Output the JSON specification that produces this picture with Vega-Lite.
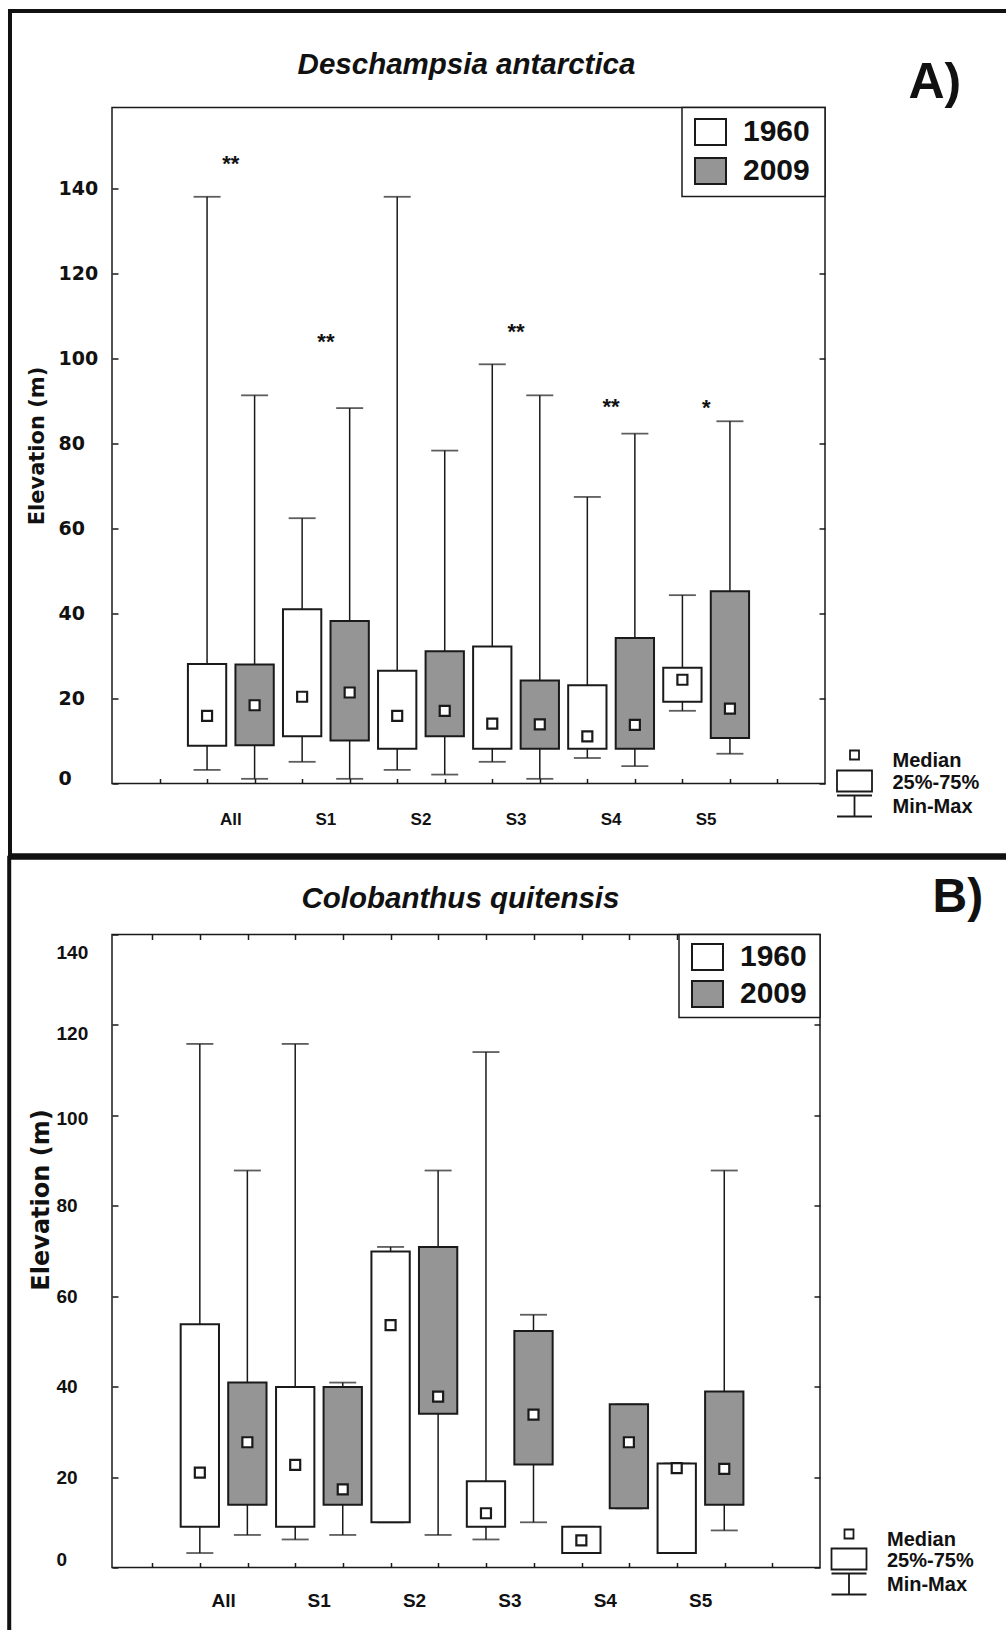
{
  "$schema": "https://vega.github.io/schema/vega-lite/v6.json",
  "background": "white",
  "padding": {"left": 6, "top": 7.5, "right": 0, "bottom": 0},
  "spacing": -4,
  "resolve": {"scale": {"fill": "independent", "shape": "independent"}, "legend": {"fill": "independent", "shape": "independent"}},
  "config": {"view": {"stroke": "#1a1a1a", "strokeWidth": 1.5}, "font": "Liberation Sans"},
  "datasets": {
    "boxA": [
      {"site": "All", "year": "1960", "min": 3.2, "q1": 8.9, "median": 15.9, "q3": 28.1, "max": 138},
      {"site": "All", "year": "2009", "min": 1.1, "q1": 9.0, "median": 18.4, "q3": 28.0, "max": 91.3},
      {"site": "S1", "year": "1960", "min": 5.1, "q1": 11.1, "median": 20.4, "q3": 41.0, "max": 62.4},
      {"site": "S1", "year": "2009", "min": 1.1, "q1": 10.1, "median": 21.4, "q3": 38.2, "max": 88.3},
      {"site": "S2", "year": "1960", "min": 3.2, "q1": 8.2, "median": 15.9, "q3": 26.5, "max": 138},
      {"site": "S2", "year": "2009", "min": 2.1, "q1": 11.1, "median": 17.1, "q3": 31.1, "max": 78.3},
      {"site": "S3", "year": "1960", "min": 5.1, "q1": 8.2, "median": 14.1, "q3": 32.2, "max": 98.6},
      {"site": "S3", "year": "2009", "min": 1.1, "q1": 8.2, "median": 13.9, "q3": 24.2, "max": 91.3},
      {"site": "S4", "year": "1960", "min": 6.0, "q1": 8.2, "median": 11.1, "q3": 23.1, "max": 67.4},
      {"site": "S4", "year": "2009", "min": 4.1, "q1": 8.2, "median": 13.8, "q3": 34.2, "max": 82.3},
      {"site": "S5", "year": "1960", "min": 17.1, "q1": 19.2, "median": 24.4, "q3": 27.2, "max": 44.3},
      {"site": "S5", "year": "2009", "min": 7.0, "q1": 10.7, "median": 17.6, "q3": 45.2, "max": 85.2}
    ],
    "boxB": [
      {"site": "All", "year": "1960", "min": 3.2, "q1": 9.0, "median": 21.0, "q3": 53.8, "max": 115.8},
      {"site": "All", "year": "2009", "min": 7.2, "q1": 13.9, "median": 27.7, "q3": 40.9, "max": 87.8},
      {"site": "S1", "year": "1960", "min": 6.2, "q1": 9.0, "median": 22.7, "q3": 39.9, "max": 115.8},
      {"site": "S1", "year": "2009", "min": 7.2, "q1": 13.9, "median": 17.3, "q3": 39.9, "max": 40.9},
      {"site": "S2", "year": "1960", "min": 10.0, "q1": 10.0, "median": 53.6, "q3": 69.9, "max": 70.9},
      {"site": "S2", "year": "2009", "min": 7.2, "q1": 34.0, "median": 37.8, "q3": 70.9, "max": 87.8},
      {"site": "S3", "year": "1960", "min": 6.2, "q1": 9.0, "median": 12.0, "q3": 19.1, "max": 114.0},
      {"site": "S3", "year": "2009", "min": 10.0, "q1": 22.8, "median": 33.8, "q3": 52.3, "max": 55.9},
      {"site": "S4", "year": "1960", "min": 3.2, "q1": 3.2, "median": 6.0, "q3": 9.0, "max": 9.0},
      {"site": "S4", "year": "2009", "min": 13.1, "q1": 13.1, "median": 27.7, "q3": 36.1, "max": 36.1},
      {"site": "S5", "year": "1960", "min": 3.2, "q1": 3.2, "median": 22.0, "q3": 23.0, "max": 23.0},
      {"site": "S5", "year": "2009", "min": 8.2, "q1": 13.9, "median": 21.8, "q3": 38.9, "max": 87.8}
    ],
    "starsA": [
      {"site": "All", "sig": "**", "y": 146},
      {"site": "S1", "sig": "**", "y": 104},
      {"site": "S3", "sig": "**", "y": 106.4},
      {"site": "S4", "sig": "**", "y": 88.8},
      {"site": "S5", "sig": "*", "y": 88.5}
    ],
    "key": [{"key": "Median"}, {"key": "25%-75%"}, {"key": "Min-Max"}]
  },
  "vconcat": [
    {
      "width": 713,
      "height": 676,
      "layer": [
        {
          "layer": [
            {
              "data": {"name": "boxA"},
              "mark": {"type": "rule", "color": "#1a1a1a", "strokeWidth": 1.5},
              "encoding": {
                "x": {"field": "site", "type": "nominal", "sort": null, "scale": {"domain": ["All", "S1", "S2", "S3", "S4", "S5"], "paddingInner": 0, "paddingOuter": 0.75},
                  "axis": {"orient": "bottom", "title": null, "ticks": false, "tickSize": 0, "domain": false, "grid": false, "labelAngle": 0, "labelFont": "Liberation Sans", "labelFontWeight": "bold", "labelFontSize": 17, "labelColor": "#111111", "labelPadding": 36, "labelBaseline": "middle"}},
                "xOffset": {"field": "year", "type": "nominal", "scale": {"domain": ["1960", "2009"], "paddingInner": 0.194, "paddingOuter": 0.097}},
                "y": {"field": "min", "type": "quantitative", "scale": {"domain": [0, 159], "nice": false, "zero": false},
                  "axis": {"orient": "left", "values": [0, 20, 40, 60, 80, 100, 120, 140], "tickSize": -6, "tickColor": "#1a1a1a", "tickWidth": 1.5, "domain": false, "grid": false,
                    "labelFont": "DejaVu Sans", "labelFontWeight": "bold", "labelFontSize": 19, "labelColor": "#111111", "labelAlign": "left", "labelPadding": 60,
                    "labelOffset": {"expr": "datum.value == 0 ? -5 : 0"},
                    "title": "Elevation (m)", "titleFont": "DejaVu Sans", "titleFontWeight": "bold", "titleFontSize": 21, "titleColor": "#111111", "titleX": -75, "titleY": 338, "titleAngle": 270, "titleBaseline": "middle", "titleAlign": "center"}},
                "y2": {"field": "max"}
              }
            },
            {
              "data": {"name": "boxA"},
              "mark": {"type": "tick", "color": "#1a1a1a", "thickness": 1.8, "size": 27},
              "encoding": {
                "x": {"field": "site", "type": "nominal", "sort": null, "scale": {"domain": ["All", "S1", "S2", "S3", "S4", "S5"], "paddingInner": 0, "paddingOuter": 0.75}},
                "xOffset": {"field": "year", "type": "nominal", "scale": {"domain": ["1960", "2009"], "paddingInner": 0.194, "paddingOuter": 0.097}},
                "y": {"field": "min", "type": "quantitative", "scale": {"domain": [0, 159], "nice": false, "zero": false}}
              }
            },
            {
              "data": {"name": "boxA"},
              "mark": {"type": "tick", "color": "#1a1a1a", "thickness": 1.8, "size": 27},
              "encoding": {
                "x": {"field": "site", "type": "nominal", "sort": null, "scale": {"domain": ["All", "S1", "S2", "S3", "S4", "S5"], "paddingInner": 0, "paddingOuter": 0.75}},
                "xOffset": {"field": "year", "type": "nominal", "scale": {"domain": ["1960", "2009"], "paddingInner": 0.194, "paddingOuter": 0.097}},
                "y": {"field": "max", "type": "quantitative", "scale": {"domain": [0, 159], "nice": false, "zero": false}}
              }
            },
            {
              "data": {"name": "boxA"},
              "mark": {"type": "bar", "stroke": "#1a1a1a", "strokeWidth": 2},
              "encoding": {
                "x": {"field": "site", "type": "nominal", "sort": null, "scale": {"domain": ["All", "S1", "S2", "S3", "S4", "S5"], "paddingInner": 0, "paddingOuter": 0.75}},
                "xOffset": {"field": "year", "type": "nominal", "scale": {"domain": ["1960", "2009"], "paddingInner": 0.194, "paddingOuter": 0.097}},
                "y": {"field": "q1", "type": "quantitative", "scale": {"domain": [0, 159], "nice": false, "zero": false}},
                "y2": {"field": "q3"},
                "fill": {"field": "year", "type": "nominal", "scale": {"domain": ["1960", "2009"], "range": ["#ffffff", "#959595"]},
                  "legend": {"orient": "top-right", "offset": 0, "title": "\u00a0", "titleOrient": "right", "titleFontSize": 2, "titlePadding": 7, "fillColor": "white", "strokeColor": "#1a1a1a", "padding": 8,
                    "symbolType": "M-1,-0.84H1V0.84H-1Z", "symbolSize": 961, "symbolStrokeColor": "#1a1a1a", "symbolStrokeWidth": 2, "symbolOffset": 4,
                    "labelFont": "Liberation Sans", "labelFontWeight": "bold", "labelFontSize": 30, "labelColor": "#111111", "labelOffset": 16, "rowPadding": 4,
                    "encode": {"legend": {"update": {"strokeWidth": {"value": 1.5}}}}}}
              }
            },
            {
              "data": {"name": "boxA"},
              "mark": {"type": "point", "shape": "square", "filled": true, "fill": "white", "stroke": "#1a1a1a", "strokeWidth": 2.2, "size": 100, "opacity": 1},
              "encoding": {
                "x": {"field": "site", "type": "nominal", "sort": null, "scale": {"domain": ["All", "S1", "S2", "S3", "S4", "S5"], "paddingInner": 0, "paddingOuter": 0.75}},
                "xOffset": {"field": "year", "type": "nominal", "scale": {"domain": ["1960", "2009"], "paddingInner": 0.194, "paddingOuter": 0.097}},
                "y": {"field": "median", "type": "quantitative", "scale": {"domain": [0, 159], "nice": false, "zero": false}}
              }
            },
            {
              "data": {"name": "starsA"},
              "mark": {"type": "text", "font": "Liberation Sans", "fontWeight": "bold", "fontSize": 22, "color": "#111111", "baseline": "middle", "dy": 1},
              "encoding": {
                "x": {"field": "site", "type": "nominal", "sort": null, "scale": {"domain": ["All", "S1", "S2", "S3", "S4", "S5"], "paddingInner": 0, "paddingOuter": 0.75}},
                "y": {"field": "y", "type": "quantitative", "scale": {"domain": [0, 159], "nice": false, "zero": false}},
                "text": {"field": "sig"}
              }
            },
            {
              "data": {"name": "key"},
              "mark": {"type": "point", "opacity": 0},
              "encoding": {
                "shape": {"field": "key", "type": "nominal", "scale": {"domain": ["Median", "25%-75%", "Min-Max"], "range": ["M-0.45,-1H0.45V-0.1H-0.45Z", "M-1.75,-1.2H1.75V0.9H-1.75Z", "M-1.75,-1.1H1.75M0,-1.1V1M-1.75,1H1.75"]},
                  "legend": {"orient": "none", "legendX": 731.5, "legendY": 642, "title": null, "padding": 0, "symbolSize": 400, "symbolFillColor": "white", "symbolStrokeColor": "#1a1a1a", "symbolStrokeWidth": 1.8, "symbolOpacity": 1,
                    "labelFont": "Liberation Sans", "labelFontWeight": "bold", "labelFontSize": 20, "labelColor": "#111111", "labelOffset": 27, "rowPadding": -4}}
              }
            }
          ]
        },
        {
          "data": {"values": [{}]},
          "mark": {"type": "rect", "fill": "white", "fillOpacity": 0, "stroke": "#111111", "strokeWidth": 4},
          "encoding": {
            "x": {"datum": -2.146, "type": "quantitative", "scale": {"domain": [0, 15], "nice": false, "zero": false},
              "axis": {"orient": "bottom", "values": [1, 2, 3, 4, 5, 6, 7, 8, 9, 10, 11, 12, 13, 14], "labels": false, "tickSize": -5, "tickColor": "#1a1a1a", "tickWidth": 1.5, "domain": false, "grid": false, "title": null}},
            "x2": {"datum": 20},
            "y": {"datum": -16.9, "type": "quantitative", "scale": {"domain": [0, 159], "nice": false, "zero": false},
              "axis": {"orient": "right", "values": [0, 20, 40, 60, 80, 100, 120, 140], "labels": false, "tickSize": -6, "tickColor": "#1a1a1a", "tickWidth": 1.5, "domain": false, "grid": false, "title": null}},
            "y2": {"datum": 181.7}
          }
        },
        {
          "data": {"values": [{}]},
          "mark": {"type": "text", "text": "A)", "font": "Liberation Sans", "fontWeight": "bold", "fontSize": 50, "align": "center", "baseline": "alphabetic", "color": "#111111"},
          "encoding": {
            "x": {"datum": 17.31, "type": "quantitative", "scale": {"domain": [0, 15], "nice": false, "zero": false},
              "axis": {"orient": "top", "ticks": false, "labels": false, "domain": false, "grid": false, "title": "Deschampsia antarctica", "titleFont": "Liberation Sans", "titleFontStyle": "italic", "titleFontWeight": "bold", "titleFontSize": 29.5, "titleColor": "#111111", "titleX": 354, "titleY": -34, "titleBaseline": "alphabetic", "titleAlign": "center"}},
            "y": {"datum": 161.2, "type": "quantitative", "scale": {"domain": [0, 159], "nice": false, "zero": false}, "axis": null}
          }
        }
      ],
      "resolve": {"scale": {"x": "independent"}, "axis": {"x": "independent", "y": "independent"}}
    },
    {
      "width": 708,
      "height": 633,
      "layer": [
        {
          "layer": [
            {
              "data": {"name": "boxB"},
              "mark": {"type": "rule", "color": "#1a1a1a", "strokeWidth": 1.5},
              "encoding": {
                "x": {"field": "site", "type": "nominal", "sort": null, "scale": {"domain": ["All", "S1", "S2", "S3", "S4", "S5"], "paddingInner": 0, "paddingOuter": 0.7115, "align": 0.472},
                  "axis": {"orient": "bottom", "title": null, "ticks": false, "tickSize": 0, "domain": false, "grid": false, "labelAngle": 0, "labelFont": "Liberation Sans", "labelFontWeight": "bold", "labelFontSize": 19, "labelColor": "#111111", "labelPadding": 33, "labelBaseline": "middle"}},
                "xOffset": {"field": "year", "type": "nominal", "scale": {"domain": ["1960", "2009"], "paddingInner": 0.194, "paddingOuter": 0.097}},
                "y": {"field": "min", "type": "quantitative", "scale": {"domain": [0, 140], "nice": false, "zero": false},
                  "axis": {"orient": "left", "values": [0, 20, 40, 60, 80, 100, 120, 140], "tickSize": -6, "tickColor": "#1a1a1a", "tickWidth": 1.5, "domain": false, "grid": false,
                    "labelFont": "Liberation Sans", "labelFontWeight": "bold", "labelFontSize": 19, "labelColor": "#111111", "labelAlign": "left", "labelPadding": 62,
                    "labelOffset": {"expr": "datum.value == 140 ? 18 : datum.value == 120 ? 9 : datum.value == 100 ? 3 : datum.value == 0 ? -8 : 0"},
                    "title": "Elevation (m)", "titleFont": "DejaVu Sans", "titleFontWeight": "bold", "titleFontSize": 24, "titleColor": "#111111", "titleX": -70.5, "titleY": 265, "titleAngle": 270, "titleBaseline": "middle", "titleAlign": "center"}},
                "y2": {"field": "max"}
              }
            },
            {
              "data": {"name": "boxB"},
              "mark": {"type": "tick", "color": "#1a1a1a", "thickness": 1.8, "size": 27},
              "encoding": {
                "x": {"field": "site", "type": "nominal", "sort": null, "scale": {"domain": ["All", "S1", "S2", "S3", "S4", "S5"], "paddingInner": 0, "paddingOuter": 0.7115, "align": 0.472}},
                "xOffset": {"field": "year", "type": "nominal", "scale": {"domain": ["1960", "2009"], "paddingInner": 0.194, "paddingOuter": 0.097}},
                "y": {"field": "min", "type": "quantitative", "scale": {"domain": [0, 140], "nice": false, "zero": false}}
              }
            },
            {
              "data": {"name": "boxB"},
              "mark": {"type": "tick", "color": "#1a1a1a", "thickness": 1.8, "size": 27},
              "encoding": {
                "x": {"field": "site", "type": "nominal", "sort": null, "scale": {"domain": ["All", "S1", "S2", "S3", "S4", "S5"], "paddingInner": 0, "paddingOuter": 0.7115, "align": 0.472}},
                "xOffset": {"field": "year", "type": "nominal", "scale": {"domain": ["1960", "2009"], "paddingInner": 0.194, "paddingOuter": 0.097}},
                "y": {"field": "max", "type": "quantitative", "scale": {"domain": [0, 140], "nice": false, "zero": false}}
              }
            },
            {
              "data": {"name": "boxB"},
              "mark": {"type": "bar", "stroke": "#1a1a1a", "strokeWidth": 2},
              "encoding": {
                "x": {"field": "site", "type": "nominal", "sort": null, "scale": {"domain": ["All", "S1", "S2", "S3", "S4", "S5"], "paddingInner": 0, "paddingOuter": 0.7115, "align": 0.472}},
                "xOffset": {"field": "year", "type": "nominal", "scale": {"domain": ["1960", "2009"], "paddingInner": 0.194, "paddingOuter": 0.097}},
                "y": {"field": "q1", "type": "quantitative", "scale": {"domain": [0, 140], "nice": false, "zero": false}},
                "y2": {"field": "q3"},
                "fill": {"field": "year", "type": "nominal", "scale": {"domain": ["1960", "2009"], "range": ["#ffffff", "#959595"]},
                  "legend": {"orient": "top-right", "offset": 0, "title": "\u00a0", "titleOrient": "right", "titleFontSize": 2, "titlePadding": 7, "fillColor": "white", "strokeColor": "#1a1a1a", "padding": 6,
                    "symbolType": "M-1,-0.84H1V0.84H-1Z", "symbolSize": 961, "symbolStrokeColor": "#1a1a1a", "symbolStrokeWidth": 2, "symbolOffset": 6,
                    "labelFont": "Liberation Sans", "labelFontWeight": "bold", "labelFontSize": 30, "labelColor": "#111111", "labelOffset": 16, "rowPadding": 2,
                    "encode": {"legend": {"update": {"strokeWidth": {"value": 1.5}}}}}}
              }
            },
            {
              "data": {"name": "boxB"},
              "mark": {"type": "point", "shape": "square", "filled": true, "fill": "white", "stroke": "#1a1a1a", "strokeWidth": 2.2, "size": 100, "opacity": 1},
              "encoding": {
                "x": {"field": "site", "type": "nominal", "sort": null, "scale": {"domain": ["All", "S1", "S2", "S3", "S4", "S5"], "paddingInner": 0, "paddingOuter": 0.7115, "align": 0.472}},
                "xOffset": {"field": "year", "type": "nominal", "scale": {"domain": ["1960", "2009"], "paddingInner": 0.194, "paddingOuter": 0.097}},
                "y": {"field": "median", "type": "quantitative", "scale": {"domain": [0, 140], "nice": false, "zero": false}}
              }
            },
            {
              "data": {"name": "key"},
              "mark": {"type": "point", "opacity": 0},
              "encoding": {
                "shape": {"field": "key", "type": "nominal", "scale": {"domain": ["Median", "25%-75%", "Min-Max"], "range": ["M-0.45,-1H0.45V-0.1H-0.45Z", "M-1.75,-1.2H1.75V0.9H-1.75Z", "M-1.75,-1.1H1.75M0,-1.1V1M-1.75,1H1.75"]},
                  "legend": {"orient": "none", "legendX": 726, "legendY": 594, "title": null, "padding": 0, "symbolSize": 400, "symbolFillColor": "white", "symbolStrokeColor": "#1a1a1a", "symbolStrokeWidth": 1.8, "symbolOpacity": 1,
                    "labelFont": "Liberation Sans", "labelFontWeight": "bold", "labelFontSize": 20, "labelColor": "#111111", "labelOffset": 27, "rowPadding": -5}}
              }
            }
          ]
        },
        {
          "data": {"values": [{}]},
          "mark": {"type": "rect", "fill": "white", "fillOpacity": 0, "stroke": "#111111", "strokeWidth": 4},
          "encoding": {
            "x": {"datum": -2.0, "type": "quantitative", "scale": {"domain": [0.155, 15.0], "nice": false, "zero": false},
              "axis": {"orient": "bottom", "values": [1, 2, 3, 4, 5, 6, 7, 8, 9, 10, 11, 12, 13, 14], "labels": false, "tickSize": -5, "tickColor": "#1a1a1a", "tickWidth": 1.5, "domain": false, "grid": false, "title": null}},
            "x2": {"datum": 20},
            "y": {"datum": -16, "type": "quantitative", "scale": {"domain": [0, 140], "nice": false, "zero": false},
              "axis": {"orient": "right", "values": [0, 20, 40, 60, 80, 100, 120, 140], "labels": false, "tickSize": -6, "tickColor": "#1a1a1a", "tickWidth": 1.5, "domain": false, "grid": false, "title": null}},
            "y2": {"datum": 157}
          }
        },
        {
          "data": {"values": [{}]},
          "mark": {"type": "text", "text": "B)", "font": "Liberation Sans", "fontWeight": "bold", "fontSize": 48, "align": "center", "baseline": "alphabetic", "color": "#111111"},
          "encoding": {
            "x": {"datum": 17.89, "type": "quantitative", "scale": {"domain": [0.155, 15.0], "nice": false, "zero": false},
              "axis": {"orient": "top", "values": [1, 2, 3, 4, 5, 6, 7, 8, 9, 10, 11, 12, 13, 14], "ticks": true, "tickSize": -5, "tickColor": "#1a1a1a", "tickWidth": 1.5, "labels": false, "domain": false, "grid": false, "title": "Colobanthus quitensis", "titleFont": "Liberation Sans", "titleFontStyle": "italic", "titleFontWeight": "bold", "titleFontSize": 29.5, "titleColor": "#111111", "titleX": 348, "titleY": -27, "titleBaseline": "alphabetic", "titleAlign": "center"}},
            "y": {"datum": 145, "type": "quantitative", "scale": {"domain": [0, 140], "nice": false, "zero": false}, "axis": null}
          }
        }
      ],
      "resolve": {"scale": {"x": "independent"}, "axis": {"x": "independent", "y": "independent"}}
    }
  ]
}
